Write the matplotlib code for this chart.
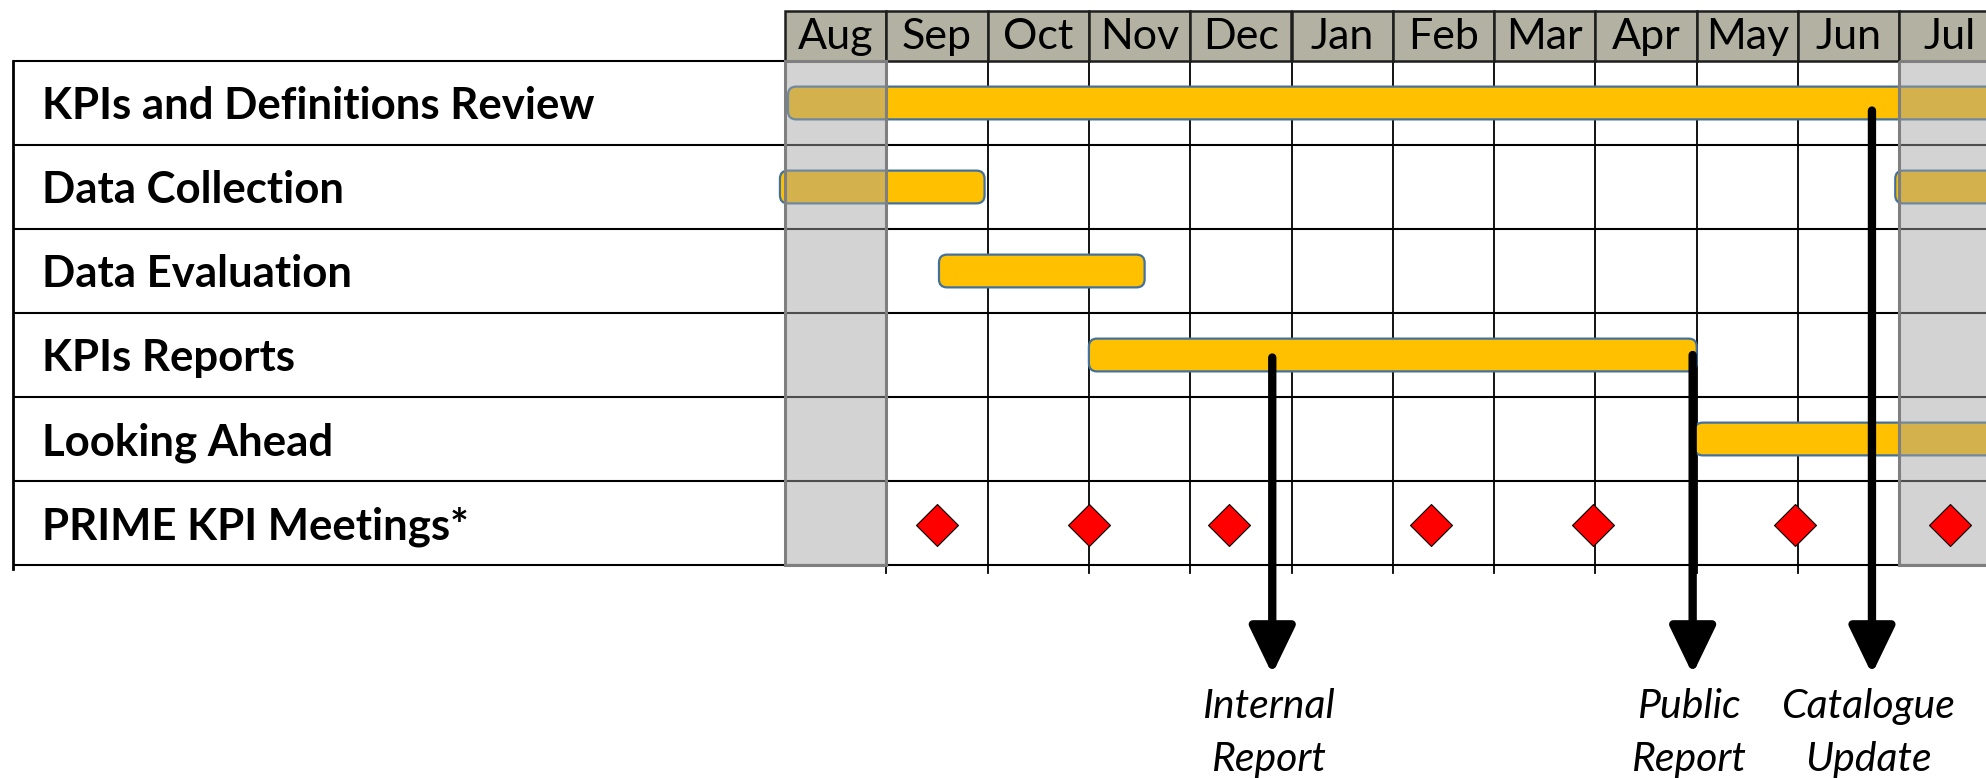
import matplotlib
matplotlib.use("Agg")
import matplotlib.pyplot as plt
from matplotlib.patches import Rectangle, FancyBboxPatch

months = ["Aug", "Sep", "Oct", "Nov", "Dec", "Jan", "Feb", "Mar", "Apr", "May", "Jun", "Jul"]
tasks = ["KPIs and Definitions Review", "Data Collection", "Data Evaluation",
         "KPIs Reports", "Looking Ahead", "PRIME KPI Meetings*"]

# bars: row index, start and end in months from the start of Aug
bar_row = [0, 1, 1, 2, 3, 4]
bar_start = [0.03, -0.05, 10.96, 1.52, 3.0, 8.98]
bar_end = [12.5, 1.97, 12.5, 3.55, 9.0, 12.5]

# PRIME KPI meetings (month positions)
meetings = [1.5, 3.0, 4.38, 6.38, 7.98, 9.97, 11.5]

# milestones
milestone_labels = ["Internal\nReport", "Public\nReport", "Catalogue\nUpdate"]
milestone_x = [4.81, 8.96, 10.73]
milestone_from = [3.53, 3.5, 0.59]

shaded_months = [0, 11]

# pixel layout of the original slide
W, H = 1986, 778
X0, MW = 785, 101.3   # left edge of Aug, month width
Y0, RH = 61, 84       # top of the table, row height

fig = plt.figure(figsize=(W / 100, H / 100), dpi=100)
ax = fig.add_axes([0, 0, 1, 1])
ax.set_xlim(-X0 / MW, (W - X0) / MW)
ax.set_ylim((H - Y0) / RH, -Y0 / RH)
ax.axis("off")

left = -7.62
n = len(tasks)

# table lines
for r in range(n + 1):
    ax.plot([left, 13], [r, r], color="black", lw=1.5, zorder=1, solid_capstyle="butt")
ax.plot([left, left], [0, n + 0.05], color="black", lw=2, zorder=1)
for m in range(1, 11):
    ax.plot([m, m], [0, n + 0.09], color="black", lw=1.3, zorder=1)

# header
for i, name in enumerate(months):
    ax.add_patch(Rectangle((i, -0.6), 1, 0.6, facecolor="#B2B1A2", edgecolor="#1e1e1e",
                           lw=1.8, zorder=2))
    ax.text(i + 0.5, -0.28, name, ha="center", va="center", fontsize=31,
            family="Lato", zorder=3)

# task labels
for r, name in enumerate(tasks):
    ax.text(-7.33, r + 0.54, name, ha="left", va="center", fontsize=31.5,
            family="Lato", fontweight="bold", zorder=3)

# bars
bh = 0.39
for r, s, e in zip(bar_row, bar_start, bar_end):
    ax.add_patch(FancyBboxPatch((s, r + 0.5 - bh / 2), e - s, bh,
                                boxstyle="round,pad=0,rounding_size=0.08",
                                mutation_aspect=MW / RH,
                                facecolor="#FFC000", edgecolor="#41719C", lw=1.6, zorder=2))

# shaded months
for m in shaded_months:
    ax.add_patch(Rectangle((m, 0), 1, n, facecolor="#A3A3A3", alpha=0.48,
                           edgecolor="none", zorder=3))
    ax.add_patch(Rectangle((m, 0), 1, n, facecolor="none", edgecolor="#7F7F7F",
                           lw=2.2, zorder=4))

# meetings
ax.plot(meetings, [n - 0.48] * len(meetings), ls="none", marker="D", ms=21,
        mfc="red", mec="black", mew=0.8, zorder=5)

# milestone arrows
for x, y0, lab in zip(milestone_x, milestone_from, milestone_labels):
    ax.annotate("", xy=(x, 7.3), xytext=(x, y0),
                arrowprops=dict(arrowstyle="-|>,head_length=1.45,head_width=0.7",
                                lw=6, color="black", mutation_scale=20,
                                shrinkA=0, shrinkB=0),
                zorder=6)
    ax.text(x - 0.03, 8.0, lab, ha="center", va="center", fontsize=29.5,
            family="Lato", style="italic", linespacing=1.55, zorder=6)

fig.savefig("out.png", dpi=100)
